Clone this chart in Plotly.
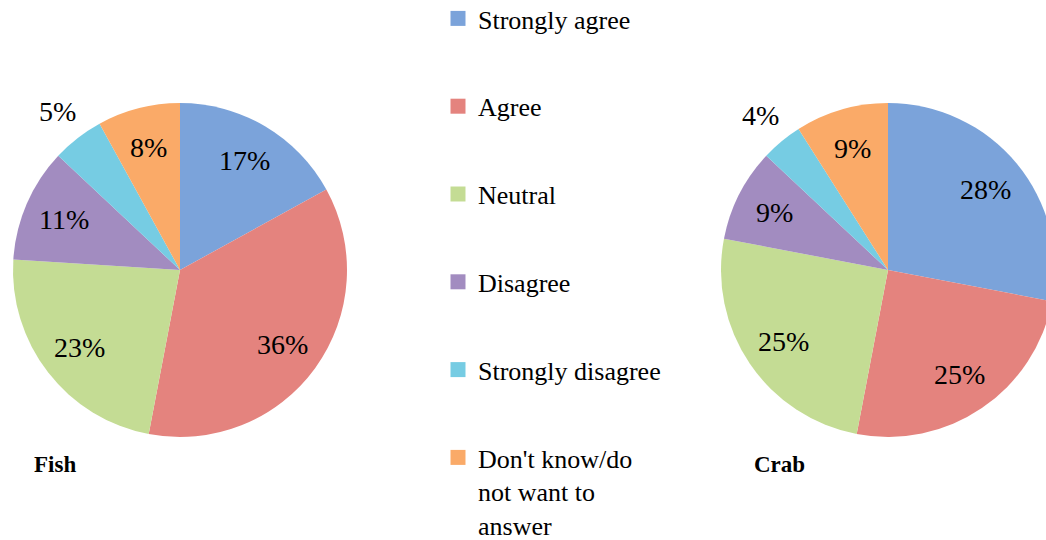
import math
import plotly.graph_objects as go

categories = ["Strongly agree", "Agree", "Neutral", "Disagree",
              "Strongly disagree", "Don't know/do not want to answer"]
legend_labels = ["Strongly agree", "Agree", "Neutral", "Disagree",
                 "Strongly disagree", "Don't know/do<br>not want to<br>answer"]
fish_values = [17, 36, 23, 11, 5, 8]
crab_values = [28, 25, 25, 9, 4, 9]
colors = ["#7BA3DA", "#E4837E", "#C4DC94", "#A28CC0", "#76CCE3", "#FAAA68"]

FONT = "Liberation Serif"
W, H = 1100, 600          # figure size; page container clips to 1046x540
OFF = 20                  # figure is shifted up by OFF px inside the container
VIEW_W, VIEW_H = 1046, 540

def px_x(a, b):
    return [a / W, b / W]

def py(v):                # view pixel (from top) -> paper fraction
    return (H - (v + OFF)) / H

fig = go.Figure()
annotations = []

def add_pie(values, dom_x, dom_y, name, outside_idx):
    fig.add_trace(go.Pie(
        labels=categories, values=values, sort=False, direction="clockwise",
        marker=dict(colors=colors, line=dict(width=0)),
        textinfo="none", showlegend=False, name=name,
        hovertemplate="%{label}: %{value}%<extra>" + name + "</extra>",
        domain=dict(x=dom_x, y=dom_y),
    ))
    # label placement derived from the data (Excel-style: ~0.75r inside)
    cx = (dom_x[0] + dom_x[1]) / 2 * W
    cy = H - (dom_y[0] + dom_y[1]) / 2 * H
    r = min((dom_x[1] - dom_x[0]) * W, (dom_y[1] - dom_y[0]) * H) / 2
    total = sum(values)
    cum = 0
    for i, v in enumerate(values):
        mid = (cum + v / 2) / total * 2 * math.pi
        cum += v
        f = 1.2 if i in outside_idx else 0.76
        x = cx + f * r * math.sin(mid)
        y = cy - f * r * math.cos(mid)
        annotations.append(dict(
            text=f"{v}%", x=x / W, y=(H - y) / H, xref="paper", yref="paper",
            xanchor="center", yanchor="middle", showarrow=False,
            font=dict(family=FONT, size=28, color="black")))

add_pie(fish_values, px_x(13, 347), [py(437), py(103)], "Fish", {4})
add_pie(crab_values, px_x(721, 1055), [py(437), py(103)], "Crab", {4})

for name, col in zip(legend_labels, colors):
    fig.add_trace(go.Scatter(
        x=[None], y=[None], mode="markers", name=name, legendgroup=name,
        marker=dict(symbol="square", size=15, color=col),
    ))

for title, x0 in (("Fish", 32), ("Crab", 752)):
    annotations.append(dict(
        text=f"<b>{title}</b>", x=x0 / W, y=py(464), xref="paper", yref="paper",
        xanchor="left", yanchor="middle", showarrow=False,
        font=dict(family=FONT, size=23, color="black")))

fig.update_layout(
    width=W, height=H,
    margin=dict(l=0, r=0, t=0, b=0),
    paper_bgcolor="white", plot_bgcolor="white",
    xaxis=dict(visible=False), yaxis=dict(visible=False),
    legend=dict(
        x=438 / W, y=py(-5), xanchor="left", yanchor="top",
        font=dict(family=FONT, size=26, color="black"),
        tracegroupgap=51, itemsizing="trace", valign="top",
        bgcolor="rgba(0,0,0,0)",
    ),
    annotations=annotations,
)

post = ("document.body.style.margin='0';"
        "var d=document.getElementById('{plot_id}');"
        "d.style.marginTop='-" + str(OFF) + "px';"
        "d.parentElement.style.width='" + str(VIEW_W) + "px';"
        "d.parentElement.style.height='" + str(VIEW_H) + "px';"
        "d.parentElement.style.overflow='hidden';")
fig.write_html("out.html", post_script=post, config={"displayModeBar": False})
